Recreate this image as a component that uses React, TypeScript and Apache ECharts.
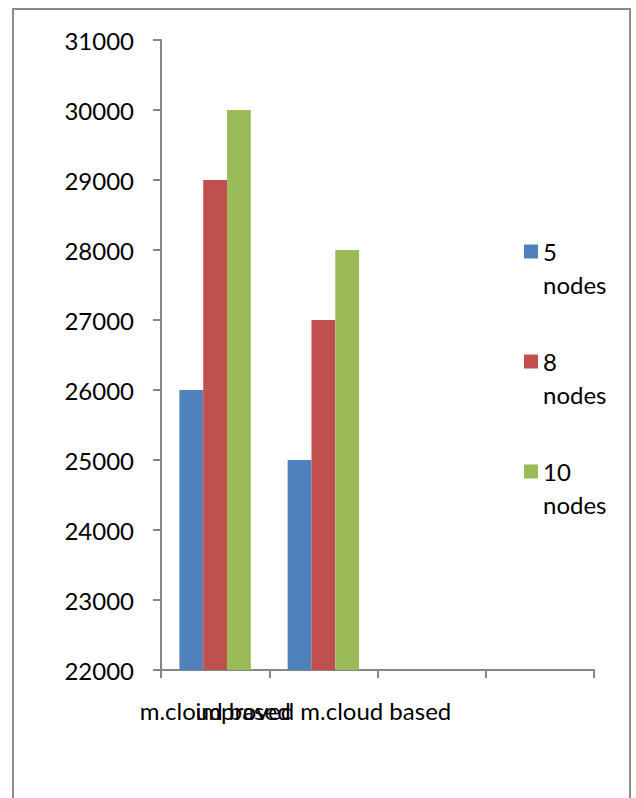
import React, { useEffect, useRef } from "react";
import * as echarts from "echarts";

// Categories along the x axis (two empty slots at the end)
const categories: string[] = ["m.cloud based", "improved m.cloud based", "", ""];

// Series values per category
const nodes5: number[] = [26000, 25000];
const nodes8: number[] = [29000, 27000];
const nodes10: number[] = [30000, 28000];

const seriesNames: string[] = ["5 nodes", "8 nodes", "10 nodes"];
const seriesColors: string[] = ["#4F81BD", "#C0504D", "#9BBB59"];

const yMin = 22000;
const yMax = 31000;
const yStep = 1000;

const FONT = "Lato, 'Open Sans', sans-serif";
const AXIS_GRAY = "#868686";

export default function App() {
  const ref = useRef<HTMLDivElement>(null);

  useEffect(() => {
    if (!ref.current) return;
    const chart = echarts.init(ref.current, undefined, { renderer: "svg" });
    const values = [nodes5, nodes8, nodes10];

    chart.setOption({
      animation: false,
      backgroundColor: "#ffffff",
      textStyle: { fontFamily: FONT },
      graphic: [
        {
          type: "rect",
          shape: { x: 13, y: 9, width: 617, height: 820 },
          style: { fill: "none", stroke: "#8a8a8a", lineWidth: 2 },
          silent: true,
        },
      ],
      grid: { left: 161, right: 42, top: 40, bottom: 128, containLabel: false },
      legend: {
        orient: "vertical",
        left: 524,
        top: 202,
        padding: 0,
        itemWidth: 14,
        itemHeight: 14,
        itemGap: 11,
        icon: "rect",
        data: seriesNames,
        formatter: (name: string) => {
          const parts = name.split(" ");
          return " \n" + parts[0] + "\n" + parts[1];
        },
        textStyle: { fontFamily: FONT, fontSize: 24, color: "#000", lineHeight: 33 },
      },
      xAxis: {
        type: "category",
        data: categories,
        boundaryGap: true,
        axisLine: { show: true, lineStyle: { color: AXIS_GRAY, width: 2 } },
        axisTick: { show: true, length: 8, lineStyle: { color: AXIS_GRAY, width: 2 } },
        axisLabel: {
          interval: 0,
          fontFamily: FONT,
          fontSize: 24,
          color: "#000",
          margin: 28,
          hideOverlap: false,
        },
        splitLine: { show: false },
      },
      yAxis: {
        type: "value",
        min: yMin,
        max: yMax,
        interval: yStep,
        axisLine: { show: true, lineStyle: { color: AXIS_GRAY, width: 2 } },
        axisTick: { show: true, length: 8, lineStyle: { color: AXIS_GRAY, width: 2 } },
        axisLabel: {
          fontFamily: FONT,
          fontSize: 24,
          color: "#000",
          margin: 27,
          formatter: (v: number) => String(v),
        },
        splitLine: { show: false },
      },
      series: seriesNames.map((name, i) => ({
        name,
        type: "bar",
        data: values[i],
        barGap: "0%",
        barCategoryGap: "34%",
        itemStyle: { color: seriesColors[i] },
      })),
    });

    return () => chart.dispose();
  }, []);

  return (
    <div
      ref={ref}
      style={{ position: "fixed", left: 0, top: 0, width: 636, height: 798 }}
    />
  );
}
